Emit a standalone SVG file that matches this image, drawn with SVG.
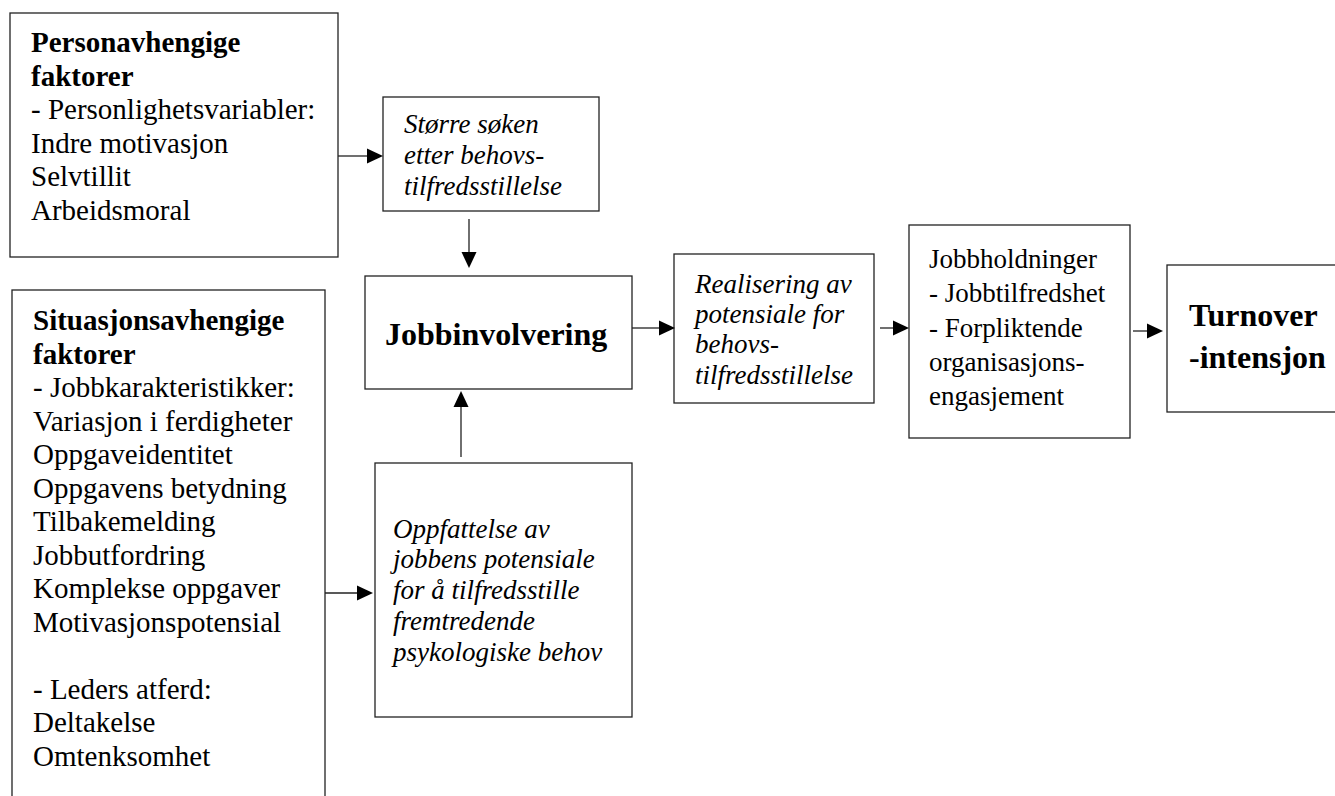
<svg xmlns="http://www.w3.org/2000/svg" width="1335" height="796" viewBox="0 0 1335 796">
<style>
.box{fill:#fff;stroke:#222;stroke-width:1.3}
.t{font-family:"Liberation Serif","Times New Roman",serif;fill:#000}
.r29{font-size:29px}
.b29{font-size:29px;font-weight:bold}
.b32{font-size:32px;font-weight:bold}
.i27{font-size:27px;font-style:italic}
.r27{font-size:27px}
.ln{stroke:#222;stroke-width:1.3;fill:none}
.ah{fill:#000}
</style>
<rect width="1335" height="796" fill="#fff"/>
<g id="personavhengige">
<rect class="box" x="10" y="13" width="328" height="244"/>
<text class="t r29" x="31">
<tspan x="31" y="52" class="b29">Personavhengige</tspan>
<tspan x="31" y="85.5" class="b29">faktorer</tspan>
<tspan x="31" y="119">- Personlighetsvariabler:</tspan>
<tspan x="31" y="152.5">Indre motivasjon</tspan>
<tspan x="31" y="186">Selvtillit</tspan>
<tspan x="31" y="219.5">Arbeidsmoral</tspan>
</text>
</g>
<g id="storre-soken">
<rect class="box" x="383" y="97" width="216" height="114"/>
<text class="t i27">
<tspan x="404" y="133">Større søken</tspan>
<tspan x="404" y="164">etter behovs-</tspan>
<tspan x="404" y="195">tilfredsstillelse</tspan>
</text>
</g>
<g id="situasjonsavhengige">
<rect class="box" x="12" y="290" width="313" height="520"/>
<text class="t r29">
<tspan x="33" y="330" class="b29">Situasjonsavhengige</tspan>
<tspan x="33" y="363.5" class="b29">faktorer</tspan>
<tspan x="33" y="397">- Jobbkarakteristikker:</tspan>
<tspan x="33" y="430.5">Variasjon i ferdigheter</tspan>
<tspan x="33" y="464">Oppgaveidentitet</tspan>
<tspan x="33" y="497.5">Oppgavens betydning</tspan>
<tspan x="33" y="531">Tilbakemelding</tspan>
<tspan x="33" y="564.5">Jobbutfordring</tspan>
<tspan x="33" y="598">Komplekse oppgaver</tspan>
<tspan x="33" y="631.5">Motivasjonspotensial</tspan>
<tspan x="33" y="698.5">- Leders atferd:</tspan>
<tspan x="33" y="732">Deltakelse</tspan>
<tspan x="33" y="765.5">Omtenksomhet</tspan>
</text>
</g>
<g id="jobbinvolvering">
<rect class="box" x="365" y="276" width="267" height="113"/>
<text class="t b32" x="385" y="345">Jobbinvolvering</text>
</g>
<g id="oppfattelse">
<rect class="box" x="375" y="463" width="257" height="254"/>
<text class="t i27">
<tspan x="393" y="538">Oppfattelse av</tspan>
<tspan x="393" y="568">jobbens potensiale</tspan>
<tspan x="393" y="599">for å tilfredsstille</tspan>
<tspan x="393" y="630">fremtredende</tspan>
<tspan x="393" y="661">psykologiske behov</tspan>
</text>
</g>
<g id="realisering">
<rect class="box" x="674" y="254" width="200" height="149"/>
<text class="t i27">
<tspan x="695" y="293">Realisering av</tspan>
<tspan x="695" y="322.5">potensiale for</tspan>
<tspan x="695" y="353">behovs-</tspan>
<tspan x="695" y="384">tilfredsstillelse</tspan>
</text>
</g>
<g id="jobbholdninger">
<rect class="box" x="909" y="225" width="221" height="213"/>
<text class="t r27">
<tspan x="929" y="268">Jobbholdninger</tspan>
<tspan x="929" y="302">- Jobbtilfredshet</tspan>
<tspan x="929" y="337">- Forpliktende</tspan>
<tspan x="929" y="371">organisasjons-</tspan>
<tspan x="929" y="405">engasjement</tspan>
</text>
</g>
<g id="turnover">
<rect class="box" x="1167" y="265" width="180" height="147"/>
<text class="t b32">
<tspan x="1189" y="326">Turnover</tspan>
<tspan x="1189" y="368">-intensjon</tspan>
</text>
</g>
<g id="connectors">
<line class="ln" x1="338" y1="156" x2="368" y2="156"/>
<polygon class="ah" points="383,156 367,148.5 367,163.5"/>
<line class="ln" x1="469" y1="219" x2="469" y2="254"/>
<polygon class="ah" points="469,268 461.5,252 476.5,252"/>
<line class="ln" x1="461" y1="457" x2="461" y2="405"/>
<polygon class="ah" points="461,391 453.5,407 468.5,407"/>
<line class="ln" x1="325" y1="593" x2="358" y2="593"/>
<polygon class="ah" points="373,593 357,585.5 357,600.5"/>
<line class="ln" x1="632" y1="328" x2="660" y2="328"/>
<polygon class="ah" points="675,328 659,320.5 659,335.5"/>
<line class="ln" x1="880" y1="328" x2="894" y2="328"/>
<polygon class="ah" points="909,328 893,320.5 893,335.5"/>
<line class="ln" x1="1133" y1="331" x2="1148" y2="331"/>
<polygon class="ah" points="1163,331 1147,323.5 1147,338.5"/>
</g>
</svg>
